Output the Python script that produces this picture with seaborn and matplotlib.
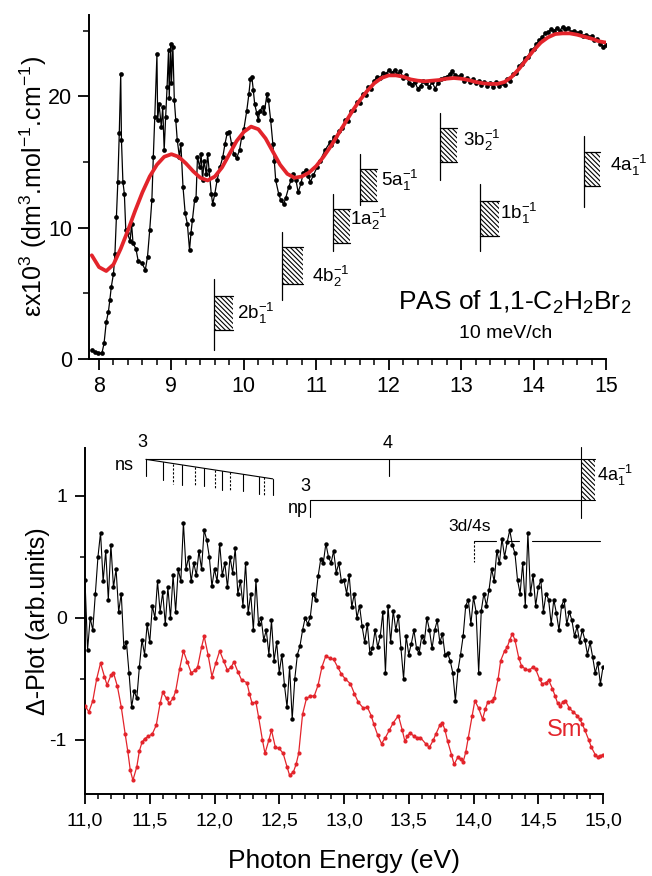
import numpy as np
import pandas as pd
import matplotlib
matplotlib.use("Agg")
import matplotlib.pyplot as plt
from matplotlib.patches import Rectangle
from matplotlib.ticker import MultipleLocator, FuncFormatter
import seaborn as sns

sns.set_theme(style="ticks")
plt.rcParams["font.family"] = ["Liberation Sans", "DejaVu Sans"]
plt.rcParams["mathtext.fontset"] = "custom"
plt.rcParams["mathtext.rm"] = "Liberation Sans"
plt.rcParams["mathtext.it"] = "Liberation Sans:italic"
plt.rcParams["mathtext.bf"] = "Liberation Sans:bold"
plt.rcParams["axes.unicode_minus"] = False
plt.rcParams["hatch.linewidth"] = 0.8
plt.rcParams["text.color"] = "black"
plt.rcParams["axes.labelcolor"] = "black"

# ---------------- photoabsorption spectrum (upper panel) ----------------
# low-energy part, irregularly sampled
pas_energy_low = [
    7.90, 7.94, 7.99, 8.04, 8.07, 8.10, 8.13, 8.15, 8.17, 8.20,
    8.22, 8.24, 8.26, 8.28, 8.30, 8.31, 8.33, 8.35, 8.37, 8.39,
    8.43, 8.45, 8.47, 8.51, 8.54, 8.59, 8.64, 8.67, 8.70, 8.73,
    8.75, 8.77, 8.80, 8.81, 8.83, 8.86, 8.88, 8.90, 8.92, 8.94,
    8.96, 8.97, 8.99, 9.00, 9.02, 9.04, 9.06, 9.08, 9.11, 9.13,
    9.16, 9.19, 9.22, 9.25, 9.27, 9.29, 9.32, 9.34, 9.36, 9.39,
    9.41, 9.43, 9.45, 9.48, 9.50, 9.52, 9.55, 9.57, 9.60, 9.63,
    9.67, 9.71, 9.74, 9.77, 9.80, 9.83, 9.86, 9.90, 9.94, 9.97,
    10.00, 10.04, 10.07, 10.09, 10.11, 10.13, 10.15, 10.18, 10.20, 10.22,
    10.26, 10.28, 10.32, 10.34, 10.37, 10.40, 10.42, 10.44, 10.48, 10.51,
    10.55, 10.58, 10.62, 10.65, 10.68, 10.72, 10.75, 10.79, 10.82, 10.86,
    10.89, 10.92, 10.96, 11.01, 11.05, 11.12, 11.19,
]
pas_eps_low = [
    0.68, 0.56, 0.48, 0.43, 1.2, 2.8, 3.6, 4.5, 5.5, 6.5,
    8.0, 10.8, 13.5, 17.2, 21.7, 16.7, 13.5, 12.6, 9.8, 9.6,
    9.0, 10.3, 8.8, 8.4, 7.5, 7.3, 6.8, 7.8, 9.8, 12.1,
    15.4, 18.4, 23.2, 18.2, 19.4, 17.7, 19.2, 15.9, 18.4, 20.7,
    23.5, 19.9, 24.0, 21.0, 23.8, 19.7, 18.2, 16.7, 15.4, 16.4,
    13.1, 11.1, 10.3, 8.3, 9.6, 10.6, 12.1, 12.3, 15.4, 14.6,
    15.6, 13.6, 15.1, 14.1, 15.6, 14.4, 12.6, 11.8, 12.6, 13.6,
    14.6, 15.4, 16.4, 17.2, 17.3, 16.4, 15.6, 15.3, 15.9, 16.9,
    17.5, 18.9, 20.2, 21.3, 21.5, 20.5, 19.4, 18.7, 18.2, 18.9,
    19.2, 18.7, 20.2, 19.7, 18.2, 16.4, 15.1, 13.6, 12.6, 12.1,
    11.8, 12.3, 13.1, 13.6, 14.1, 13.6, 12.7, 13.4, 14.2, 14.4,
    13.9, 13.5, 14.0, 14.6, 15.1, 15.9, 16.5,
]
# high-energy part, 40 meV grid
pas_energy_high = np.round(np.arange(11.20, 15.0001, 0.04), 2)
pas_eps_high = [
    16.3, 16.9, 16.6, 17.4, 17.6, 18.2, 18.1, 18.9, 19.0, 19.6,
    19.5, 20.2, 20.1, 20.7, 20.6, 21.2, 21.5, 21.4, 21.8, 21.7,
    22.0, 21.8, 22.0, 21.7, 21.9, 21.4, 21.6, 21.0, 20.9, 21.1,
    20.6, 20.8, 21.2, 21.0, 20.7, 21.1, 20.6, 21.0, 21.3, 21.4,
    21.5, 21.7, 21.9, 21.6, 21.5, 21.6, 21.2, 21.4, 21.1, 21.3,
    21.0, 21.2, 20.9, 21.1, 20.8, 21.0, 20.7, 21.1, 20.8, 21.0,
    20.9, 21.3, 21.2, 21.7, 21.8, 22.3, 22.5, 22.9, 23.0, 23.5,
    23.6, 24.0, 24.3, 24.5, 24.8, 24.9, 25.1, 25.0, 25.2, 25.0,
    25.3, 25.1, 25.2, 24.9, 25.0, 24.8, 24.9, 24.6, 24.7, 24.5,
    24.6, 24.3, 24.4, 24.0, 23.8, 23.9,
]

# smooth fit through the spectrum
fit_energy = np.round(np.arange(7.9, 15.0001, 0.1), 1)
fit_eps = [
    7.9, 7.0, 6.7, 7.2, 8.4, 9.8, 11.3, 12.7, 13.9, 14.8, 15.4,
    15.6, 15.4, 14.9, 14.3, 13.8, 13.6, 13.9, 14.6, 15.6, 16.6,
    17.3, 17.7, 17.5, 16.8, 15.8, 14.8, 14.1, 13.8, 13.9, 14.2,
    14.7, 15.4, 16.2, 17.1, 18.0, 18.9, 19.7, 20.4, 21.0, 21.4,
    21.6, 21.6, 21.5, 21.3, 21.2, 21.15, 21.2, 21.25, 21.35, 21.4,
    21.35, 21.25, 21.1, 21.0, 20.95, 20.95, 21.1, 21.5, 22.1, 22.8,
    23.5, 24.1, 24.5, 24.75, 24.8, 24.8, 24.7, 24.55, 24.4, 24.2,
    24.1,
]

# ionisation energies (hatched bars)
ion_labels = [r"2b$_1^{-1}$", r"4b$_2^{-1}$", r"1a$_2^{-1}$", r"5a$_1^{-1}$",
              r"3b$_2^{-1}$", r"1b$_1^{-1}$", r"4a$_1^{-1}$"]
ion_energy = [9.59, 10.52, 11.23, 11.61, 12.71, 13.26, 14.70]
ion_width = [0.26, 0.29, 0.23, 0.23, 0.23, 0.26, 0.22]
ion_stem_lo = [0.7, 4.5, 8.2, 11.7, 13.6, 8.2, 11.6]
ion_stem_hi = [6.1, 9.7, 12.6, 15.6, 18.7, 13.3, 17.0]
ion_box_lo = [2.2, 5.75, 8.85, 12.0, 15.0, 9.4, 13.2]
ion_box_hi = [4.8, 8.5, 11.46, 14.5, 17.6, 12.0, 15.8]
ion_label_x = [9.90, 10.94, 11.47, 11.90, 13.03, 13.54, 15.06]
ion_label_y = [3.5, 6.3, 10.6, 13.6, 16.65, 11.1, 14.75]

# ---------------- Delta-plot (lower panel) ----------------
delta_energy = np.round(np.arange(11.0, 15.0001, 0.02), 2)
delta_values = [
    0.31, -0.26, 0.00, -0.10, 0.20, 0.50, 0.70, 0.30, 0.55, 0.15,
    0.60, 0.25, 0.40, 0.05, 0.20, -0.24, -0.20, -0.45, -0.73, -0.60,
    -0.66, -0.40, -0.18, -0.30, -0.05, -0.20, 0.10, 0.00, 0.30, 0.05,
    0.21, -0.05, 0.25, 0.00, 0.35, 0.05, 0.40, 0.30, 0.78, 0.40,
    0.50, 0.30, 0.45, 0.35, 0.55, 0.40, 0.72, 0.64, 0.50, 0.26,
    0.40, 0.30, 0.61, 0.35, 0.45, 0.25, 0.50, 0.37, 0.57, 0.20,
    0.30, 0.10, 0.45, 0.04, 0.20, -0.10, 0.31, -0.05, 0.00, -0.18,
    -0.10, -0.30, -0.02, -0.35, -0.20, -0.45, -0.30, -0.55, -0.73, -0.40,
    -0.83, -0.50, -0.30, -0.23, -0.10, 0.00, -0.05, 0.01, 0.20, 0.15,
    0.34, 0.48, 0.45, 0.61, 0.50, 0.45, 0.55, 0.37, 0.45, 0.30,
    0.31, 0.20, 0.35, 0.09, 0.20, 0.00, 0.10, -0.07, -0.20, -0.05,
    -0.29, -0.25, -0.10, -0.24, -0.15, 0.05, -0.45, 0.10, -0.20, 0.06,
    -0.10, 0.02, -0.25, -0.50, -0.15, -0.30, -0.21, -0.10, -0.25, -0.29,
    -0.15, -0.20, 0.00, -0.10, -0.25, -0.10, -0.02, -0.20, -0.13, -0.30,
    -0.29, -0.35, -0.45, -0.68, -0.43, -0.30, -0.15, 0.10, 0.15, -0.05,
    0.17, 0.05, -0.45, 0.06, 0.20, 0.10, 0.23, 0.40, 0.30, 0.55,
    0.45, 0.65, 0.50, 0.62, 0.72, 0.60, 0.53, 0.31, 0.20, 0.45,
    0.10, 0.70, 0.20, 0.35, 0.10, 0.25, 0.31, 0.05, 0.20, 0.15,
    -0.05, 0.15, 0.04, -0.10, 0.10, 0.15, -0.05, 0.05, -0.02, -0.15,
    -0.07, -0.20, -0.10, -0.18, -0.30, -0.20, -0.32, -0.45, -0.37, -0.54,
    -0.40,
]

# smoothed Delta-plot (Sm)
sm_energy = [
    11.00, 11.03, 11.06, 11.09, 11.12, 11.15, 11.17, 11.20, 11.22, 11.25,
    11.28, 11.31, 11.33, 11.35, 11.37, 11.40, 11.42, 11.44, 11.46, 11.49,
    11.52, 11.55, 11.58, 11.60, 11.63, 11.65, 11.68, 11.70, 11.73, 11.76,
    11.79, 11.82, 11.85, 11.87, 11.90, 11.92, 11.95, 11.98, 12.01, 12.04,
    12.07, 12.10, 12.13, 12.15, 12.18, 12.21, 12.25, 12.27, 12.29, 12.32,
    12.34, 12.37, 12.39, 12.42, 12.44, 12.47, 12.50, 12.53, 12.56, 12.58,
    12.61, 12.63, 12.65, 12.68, 12.71, 12.74, 12.77, 12.80, 12.83, 12.86,
    12.89, 12.92, 12.95, 12.98, 13.01, 13.05, 13.08, 13.11, 13.15, 13.18,
    13.21, 13.23, 13.26, 13.29, 13.32, 13.35, 13.38, 13.42, 13.45, 13.47,
    13.49, 13.51, 13.54, 13.56, 13.59, 13.63, 13.66, 13.69, 13.71, 13.74,
    13.76, 13.78, 13.80, 13.83, 13.85, 13.88, 13.90, 13.92, 13.94, 13.96,
    13.99, 14.01, 14.04, 14.07, 14.09, 14.11, 14.14, 14.16, 14.19, 14.21,
    14.24, 14.26, 14.28, 14.30, 14.32, 14.35, 14.37, 14.40, 14.43, 14.46,
    14.48, 14.51, 14.53, 14.56, 14.58, 14.61, 14.63, 14.65, 14.67, 14.69,
    14.71, 14.74, 14.77, 14.80, 14.82, 14.84, 14.86, 14.89, 14.91, 14.94,
    14.96, 14.98, 15.00,
]
sm_values = [
    -0.72, -0.77, -0.68, -0.50, -0.37, -0.48, -0.55, -0.47, -0.45, -0.56,
    -0.73, -0.95, -1.09, -1.25, -1.33, -1.22, -1.09, -1.02, -0.99, -0.97,
    -0.95, -0.88, -0.70, -0.61, -0.66, -0.70, -0.66, -0.60, -0.42, -0.27,
    -0.36, -0.45, -0.43, -0.40, -0.24, -0.15, -0.30, -0.48, -0.37, -0.27,
    -0.35, -0.43, -0.40, -0.36, -0.44, -0.51, -0.53, -0.62, -0.70, -0.69,
    -0.81, -1.00, -1.11, -1.00, -0.92, -1.06, -1.07, -1.11, -1.22, -1.29,
    -1.26, -1.20, -1.11, -0.79, -0.66, -0.64, -0.64, -0.55, -0.40, -0.31,
    -0.33, -0.34, -0.40, -0.46, -0.50, -0.54, -0.62, -0.69, -0.74, -0.73,
    -0.80, -0.87, -0.96, -1.03, -0.98, -0.92, -0.86, -0.80, -0.92, -1.01,
    -0.97, -0.94, -0.97, -0.98, -0.98, -1.03, -1.06, -1.00, -0.95, -0.88,
    -0.86, -0.92, -1.01, -1.12, -1.20, -1.14, -1.16, -1.18, -1.10, -0.98,
    -0.80, -0.68, -0.74, -0.83, -0.75, -0.69, -0.68, -0.66, -0.50, -0.35,
    -0.27, -0.24, -0.18, -0.13, -0.18, -0.33, -0.39, -0.42, -0.43, -0.40,
    -0.42, -0.50, -0.54, -0.53, -0.51, -0.58, -0.64, -0.70, -0.72, -0.69,
    -0.68, -0.74, -0.77, -0.80, -0.83, -0.87, -0.92, -1.00, -1.06, -1.12,
    -1.14, -1.13, -1.12,
]

# Rydberg series markers
ns_start = (11.47, 1.30)
ns_end = (12.45, 1.14)
ns_tick_energy = [11.60, 11.68, 11.75, 11.85, 11.92, 12.00, 12.06, 12.12,
                  12.22, 12.34, 12.38, 12.45]
ns_tick_bottom = [1.13, 1.10, 1.09, 1.08, 1.08, 1.06, 1.05, 1.05,
                  1.04, 1.02, 1.00, 1.01]
ns_tick_dashed = [False, True, False, True, False, True, False, True,
                  False, False, True, False]
ns_n4_energy = 13.35
np_start = (12.74, 0.97)
limit_4a1 = 14.83

RED = "#e3242b"
HATCH = "\\" * 7

W, H = 652, 876
fig = plt.figure(figsize=(W / 100, H / 100), dpi=100)
ax1 = fig.add_axes([89 / W, 1 - 359 / H, 517 / W, 344 / H])
ax2 = fig.add_axes([85 / W, 1 - 794 / H, 518 / W, 346 / H])


def style_axes(ax, size):
    for s in ("top", "right"):
        ax.spines[s].set_visible(False)
    for s in ("left", "bottom"):
        ax.spines[s].set_linewidth(1.4)
        ax.spines[s].set_color("black")
    ax.tick_params(which="major", direction="out", length=8, width=1.3,
                   labelsize=size, colors="black", pad=4)
    ax.tick_params(which="minor", direction="out", length=4.5, width=1.1,
                   colors="black")
    ax.set_facecolor("white")


# ---- upper panel ----
pas_df = pd.DataFrame({
    "E": np.concatenate([pas_energy_low, pas_energy_high]),
    "eps": np.concatenate([pas_eps_low, pas_eps_high]),
})
fit_df = pd.DataFrame({"E": fit_energy, "eps": fit_eps})

sns.lineplot(data=pas_df, x="E", y="eps", ax=ax1, sort=False, estimator=None,
             color="black", lw=0.9, marker="o", markersize=3.4,
             markeredgewidth=0, zorder=2)
sns.lineplot(data=fit_df, x="E", y="eps", ax=ax1, sort=False, estimator=None,
             color=RED, lw=2.7, zorder=3)

ax1.set_xlim(7.862, 15.0)
ax1.set_ylim(0, 26.2)
ax1.xaxis.set_major_locator(MultipleLocator(1))
ax1.xaxis.set_minor_locator(MultipleLocator(0.2))
ax1.yaxis.set_major_locator(MultipleLocator(10))
ax1.yaxis.set_minor_locator(MultipleLocator(5))
style_axes(ax1, 15.5)
ax1.set_xlabel("")
ax1.set_ylabel("εx10$^3$ (dm$^3$.mol$^{-1}$.cm$^{-1}$)", fontsize=18)
ax1.yaxis.set_label_coords(-0.078, 0.5)

for lab, e, w, slo, shi, blo, bhi, lx, ly in zip(
        ion_labels, ion_energy, ion_width, ion_stem_lo, ion_stem_hi,
        ion_box_lo, ion_box_hi, ion_label_x, ion_label_y):
    ax1.plot([e, e], [slo, shi], color="black", lw=0.9, clip_on=False)
    ax1.add_patch(Rectangle((e, blo), w, bhi - blo, facecolor="none",
                            edgecolor="black", lw=0, hatch=HATCH))
    ax1.plot([e, e + w], [blo, blo], color="black", lw=0.9)
    ax1.plot([e, e + w], [bhi, bhi], color="black", lw=0.9)
    ax1.text(lx, ly, lab, fontsize=13.5, ha="left", va="center", clip_on=False)

ax1.text(13.74, 4.3, "PAS of 1,1-C$_2$H$_2$Br$_2$", fontsize=19,
         ha="center", va="center")
ax1.text(13.62, 1.95, "10 meV/ch", fontsize=14, ha="center", va="center")

# ---- lower panel ----
delta_df = pd.DataFrame({"E": delta_energy, "d": delta_values})
sm_df = pd.DataFrame({"E": sm_energy, "d": sm_values})

sns.lineplot(data=delta_df, x="E", y="d", ax=ax2, sort=False, estimator=None,
             color="black", lw=0.8, marker="o", markersize=3.2,
             markeredgewidth=0, zorder=2)
sns.lineplot(data=sm_df, x="E", y="d", ax=ax2, sort=False, estimator=None,
             color=RED, lw=0.9, marker="o", markersize=3.0,
             markeredgewidth=0, zorder=3)

ax2.set_xlim(11.0, 15.0)
ax2.set_ylim(-1.443, 1.393)
ax2.xaxis.set_major_locator(MultipleLocator(0.5))
ax2.xaxis.set_minor_locator(MultipleLocator(0.1))
ax2.yaxis.set_major_locator(MultipleLocator(1))
ax2.yaxis.set_minor_locator(MultipleLocator(0.5))
ax2.xaxis.set_major_formatter(FuncFormatter(lambda v, p: f"{v:.1f}".replace(".", ",")))
ax2.yaxis.set_major_formatter(FuncFormatter(lambda v, p: f"{v:.0f}"))
style_axes(ax2, 14)
ax2.tick_params(which="major", length=7, pad=6)
ax2.tick_params(which="minor", length=3.8)
ax2.set_xlabel("Photon Energy (eV)", fontsize=19)
ax2.xaxis.set_label_coords(0.5, -0.16)
ax2.set_ylabel("Δ-Plot (arb.units)", fontsize=18)
ax2.yaxis.set_label_coords(-0.068, 0.5)

ann = dict(color="black", lw=0.8, clip_on=False)
# ns series and its limit
ax2.plot([ns_start[0], limit_4a1], [ns_start[1], ns_start[1]], **ann)
ax2.plot([ns_start[0], ns_start[0]], [ns_start[1], 1.16], **ann)
ax2.plot([ns_start[0], ns_end[0]], [ns_start[1], ns_end[1]], **ann)
slope = (ns_end[1] - ns_start[1]) / (ns_end[0] - ns_start[0])
for e, b, dashed in zip(ns_tick_energy, ns_tick_bottom, ns_tick_dashed):
    top = ns_start[1] + slope * (e - ns_start[0])
    ax2.plot([e, e], [top, b], ls=(0, (2, 1.5)) if dashed else "-", **ann)
ax2.text(11.38, 1.25, "ns", fontsize=13, ha="right", va="center")
ax2.text(11.44, 1.44, "3", fontsize=13, ha="center", va="center")
ax2.plot([ns_n4_energy, ns_n4_energy], [ns_start[1], 1.16], **ann)
ax2.text(13.34, 1.43, "4", fontsize=13, ha="center", va="center")

# np series
ax2.plot([np_start[0], 14.94], [np_start[1], np_start[1]], **ann)
ax2.plot([np_start[0], np_start[0]], [np_start[1], 0.83], **ann)
ax2.text(12.72, 0.90, "np", fontsize=13, ha="right", va="center")
ax2.text(12.70, 1.08, "3", fontsize=13, ha="center", va="center")

# 4a1 ionisation limit
ax2.plot([limit_4a1, limit_4a1], [0.82, 1.40], **ann)
ax2.plot([limit_4a1, 14.94], [ns_start[1], ns_start[1]], **ann)
ax2.add_patch(Rectangle((limit_4a1, np_start[1]), 0.11, ns_start[1] - np_start[1],
                        facecolor="none", edgecolor="black", lw=0,
                        hatch=HATCH, clip_on=False))
ax2.text(14.95, 1.17, r"4a$_1^{-1}$", fontsize=13, ha="left", va="center")

# 3d/4s
ax2.text(13.97, 0.75, "3d/4s", fontsize=12.5, ha="center", va="center")
ax2.plot([14.0, 14.0], [0.63, 0.46], ls=(0, (2, 1.5)), **ann)
for x0, x1 in [(14.0, 14.17), (14.27, 14.35), (14.45, 14.98)]:
    ax2.plot([x0, x1], [0.63, 0.63], **ann)

ax2.text(14.70, -0.92, "Sm", fontsize=17, color=RED, ha="center", va="center")

fig.savefig("out.png", dpi=100, facecolor="white")
